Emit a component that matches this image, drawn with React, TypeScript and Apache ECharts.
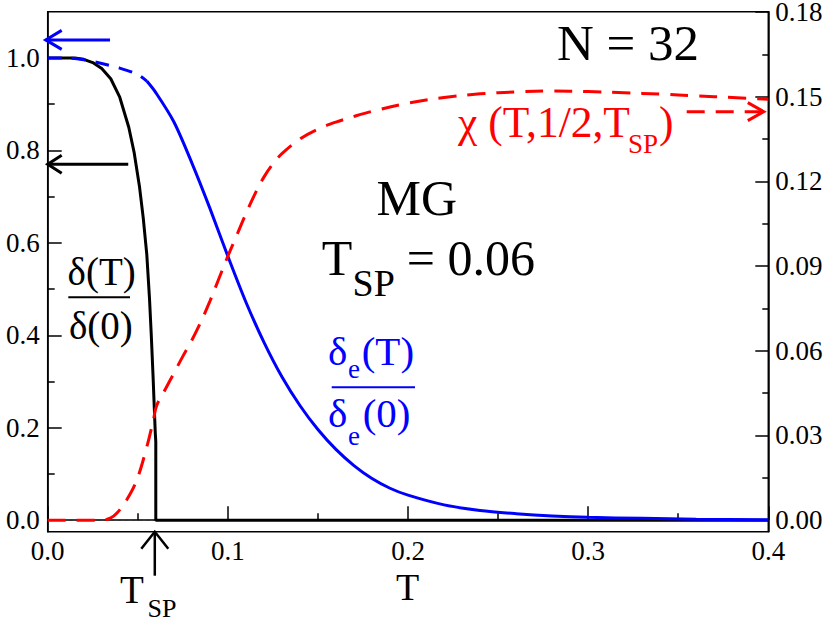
import React, { useEffect, useRef } from "react";
import * as echarts from "echarts";

// ---------- data ----------
const xTickValues = [0, 0.1, 0.2, 0.3, 0.4];
const leftTickValues = [0, 0.2, 0.4, 0.6, 0.8, 1.0];
const leftMinorValues = [0.1, 0.3, 0.5, 0.7, 0.9];
const rightTickValues = [0, 0.03, 0.06, 0.09, 0.12, 0.15, 0.18];
const rightMinorValues = [0.015, 0.045, 0.075, 0.105, 0.135, 0.165];

// delta(T)/delta(0)  (left axis)
const deltaT = [0, 0.01, 0.015, 0.02, 0.025, 0.03, 0.035, 0.04, 0.045, 0.048, 0.051, 0.053, 0.055, 0.0565, 0.0575, 0.0585, 0.0592, 0.0597, 0.06, 0.06, 0.4];
const deltaV = [1, 1, 1, 0.997, 0.99, 0.977, 0.955, 0.915, 0.85, 0.795, 0.72, 0.655, 0.575, 0.48, 0.4, 0.31, 0.24, 0.19, 0.17, 0, 0];

// delta_e(T)/delta_e(0)  dashed part (left axis)
const deltaEDashT = [0, 0.01, 0.02, 0.03, 0.04, 0.05, 0.055];
const deltaEDashV = [1, 1, 0.996, 0.988, 0.978, 0.964, 0.95];

// delta_e(T)/delta_e(0)  solid part (left axis)
const deltaET = [0.055, 0.06, 0.07, 0.08, 0.09, 0.1, 0.11, 0.12, 0.13, 0.14, 0.15, 0.16, 0.17, 0.18, 0.19, 0.2, 0.22, 0.24, 0.26, 0.28, 0.3, 0.33, 0.36, 0.4];
const deltaEV = [0.95, 0.925, 0.862, 0.773, 0.675, 0.571, 0.472, 0.385, 0.31, 0.248, 0.196, 0.153, 0.118, 0.09, 0.069, 0.054, 0.033, 0.021, 0.014, 0.009, 0.006, 0.004, 0.002, 0.001];

// chi(T,1/2,T_SP)  (right axis)
const chiT = [0, 0.03, 0.035, 0.0383, 0.0438, 0.0494, 0.055, 0.0586, 0.0605, 0.065, 0.07, 0.075, 0.08, 0.085, 0.09, 0.095, 0.1, 0.105, 0.11, 0.115, 0.12, 0.125, 0.13, 0.14, 0.15, 0.16, 0.17, 0.18, 0.2, 0.22, 0.24, 0.26, 0.28, 0.3, 0.32, 0.34, 0.36, 0.38, 0.4];
const chiV = [0, 0, 0.0008, 0.0024, 0.0071, 0.0141, 0.0259, 0.0353, 0.0406, 0.046, 0.052, 0.058, 0.0637, 0.0702, 0.0775, 0.0855, 0.0935, 0.101, 0.1085, 0.1155, 0.1215, 0.1262, 0.1298, 0.135, 0.1385, 0.141, 0.143, 0.1448, 0.1477, 0.1497, 0.151, 0.1517, 0.152, 0.1518, 0.1514, 0.1509, 0.1503, 0.1497, 0.1491];

// thin dashed zero reference up to T_SP
const zeroT = [0, 0.06];
const zeroV = [0, 0];

const TSP = 0.06;

const SERIF = "'Liberation Serif', 'Times New Roman', serif";
const BLUE = "#0000ff";
const RED = "#ff0000";

const pairs = (xs: number[], ys: number[]) => xs.map((x, i) => [x, ys[i]]);

let measureCtx: CanvasRenderingContext2D | null = null;
const measure = (text: string, fs: number) => {
  if (!measureCtx) measureCtx = document.createElement("canvas").getContext("2d");
  if (!measureCtx) return text.length * fs * 0.5;
  measureCtx.font = `${fs}px ${SERIF}`;
  return measureCtx.measureText(text).width;
};

export default function App() {
  const ref = useRef<HTMLDivElement>(null);

  useEffect(() => {
    if (!ref.current) return;
    const chart = echarts.init(ref.current, null, { renderer: "svg" });

    const labelStyle = { color: "#000", fontFamily: SERIF, fontSize: 27, lineHeight: 20 };
    const axisLine = { show: true, lineStyle: { color: "#000", width: 1.5 } };

    const option: any = {
      animation: false,
      backgroundColor: "#fff",
      textStyle: { fontFamily: SERIF },
      grid: {
        left: 47.7,
        right: 61.7,
        top: 11.7,
        bottom: 90.3,
        show: true,
        borderColor: "#000",
        borderWidth: 1.5,
        containLabel: false,
        outerBoundsMode: "none",
      },
      xAxis: [
        {
          type: "value",
          min: 0,
          max: 0.4,
          interval: 0.1,
          position: "bottom",
          axisLine,
          axisTick: { show: true, inside: true, length: 14, lineStyle: { color: "#000", width: 1.5 } },
          minorTick: { show: true, splitNumber: 2, length: 7, lineStyle: { color: "#000", width: 1.5 } },
          splitLine: { show: false },
          axisLabel: {
            ...labelStyle,
            margin: 9,
            customValues: xTickValues,
            formatter: (v: number) => v.toFixed(1),
            showMinLabel: true,
            showMaxLabel: true,
          },
        },
      ],
      yAxis: [
        {
          type: "value",
          position: "left",
          min: -0.025,
          max: 1.1,
          axisLine,
          splitLine: { show: false },
          axisTick: { show: true, inside: true, length: 14, customValues: leftTickValues, lineStyle: { color: "#000", width: 1.5 } },
          axisLabel: {
            ...labelStyle,
            margin: 8,
            customValues: leftTickValues,
            formatter: (v: number) => v.toFixed(1),
          },
        },
        {
          type: "value",
          position: "right",
          min: -0.0041,
          max: 0.1801,
          axisLine,
          splitLine: { show: false },
          axisTick: { show: true, inside: true, length: 13, customValues: rightTickValues, lineStyle: { color: "#000", width: 1.5 } },
          axisLabel: {
            ...labelStyle,
            margin: 7,
            customValues: rightTickValues,
            formatter: (v: number) => v.toFixed(2),
            showMaxLabel: true,
          },
        },
        {
          type: "value",
          position: "left",
          min: -0.025,
          max: 1.1,
          axisLine: { show: false },
          splitLine: { show: false },
          axisLabel: { show: false },
          axisTick: { show: true, inside: true, length: 7, customValues: leftMinorValues, lineStyle: { color: "#000", width: 1.5 } },
        },
        {
          type: "value",
          position: "right",
          min: -0.0041,
          max: 0.1801,
          axisLine: { show: false },
          splitLine: { show: false },
          axisLabel: { show: false },
          axisTick: { show: true, inside: true, length: 6, customValues: rightMinorValues, lineStyle: { color: "#000", width: 1.5 } },
        },
      ],
      series: [
        {
          type: "line",
          yAxisIndex: 0,
          data: pairs(zeroT, zeroV),
          symbol: "none",
          lineStyle: { color: "#333", width: 1, type: [4, 3] },
          z: 1,
        },
        {
          type: "line",
          yAxisIndex: 0,
          data: pairs(deltaT, deltaV),
          symbol: "none",
          lineStyle: { color: "#000", width: 3 },
          z: 2,
        },
        {
          type: "line",
          yAxisIndex: 0,
          data: pairs(deltaEDashT, deltaEDashV),
          symbol: "none",
          smooth: 0.3,
          lineStyle: { color: BLUE, width: 3, type: [14, 10] },
          z: 3,
        },
        {
          type: "line",
          yAxisIndex: 0,
          data: pairs(deltaET, deltaEV),
          symbol: "none",
          smooth: 0.3,
          lineStyle: { color: BLUE, width: 3 },
          z: 3,
        },
        {
          type: "line",
          yAxisIndex: 1,
          data: pairs(chiT, chiV),
          symbol: "none",
          smooth: 0.35,
          lineStyle: { color: RED, width: 3, type: [18, 11] },
          z: 4,
        },
      ],
    };

    chart.setOption(option);

    const P = (x: number, y: number, yi = 0) =>
      chart.convertToPixel({ xAxisIndex: 0, yAxisIndex: yi } as any, [x, y]) as number[];

    const txt = (text: string, x: number, baseline: number, fs: number, color = "#000", align = "left") => ({
      type: "text",
      x,
      y: baseline - 0.34 * fs,
      z: 100,
      style: {
        text,
        fill: color,
        font: `${fs}px ${SERIF}`,
        fontFamily: SERIF,
        fontSize: fs,
        lineHeight: Math.round(fs * 0.75),
        align,
        textAlign: align,
        verticalAlign: "middle",
        textVerticalAlign: "middle",
      },
    });

    const seg = (pts: number[][], color: string, width: number, dash?: number[]) => ({
      type: "polyline",
      z: 100,
      shape: { points: pts },
      style: { stroke: color, lineWidth: width, fill: "none", lineDash: dash },
    });

    const chevron = (tip: number[], dx: number, dy: number, vertical = false) =>
      vertical
        ? [[tip[0] - dx, tip[1] + dy], tip, [tip[0] + dx, tip[1] + dy]]
        : [[tip[0] + dx, tip[1] - dy], tip, [tip[0] + dx, tip[1] + dy]];

    // arrows
    const blueTip = P(0, 1.039);
    const blueTail = P(0.0346, 1.039);
    const blackTip = P(0, 0.77);
    const blackTail = P(0.0447, 0.77);
    const redTail = P(0.3547, 0.1447, 1);
    const redTip = P(0.3975, 0.1447, 1);
    const tspTip = P(TSP, -0.025);

    // chi label laid out sequentially
    const chiMain = "\u03c7 (T,1/2,T";
    const chiFs = 43.5;
    const chiSubFs = 27;
    const chiX0 = 458;
    const chiSubX = chiX0 + measure(chiMain, chiFs) - 2;
    const chiCloseX = chiSubX + measure("SP", chiSubFs) + 1;

    const graphic: any[] = [
      seg([blueTail, [blueTip[0] - 2, blueTip[1]]], BLUE, 3),
      seg(chevron([blueTip[0] - 2, blueTip[1]], 16, 9.5), BLUE, 3),
      seg([blackTail, blackTip], "#000", 3),
      seg(chevron(blackTip, 14, 9), "#000", 3),
      seg([redTail, [redTip[0] - 2, redTip[1]]], RED, 3, [18, 11]),
      seg(chevron(redTip, -16, 9), RED, 3),
      seg([[tspTip[0] - 1, tspTip[1]], [tspTip[0] - 1, tspTip[1] + 44]], "#000", 2.5),
      seg(chevron([tspTip[0] - 1, tspTip[1]], 13.5, 17, true), "#000", 2.5),

      // N = 32
      txt("N = 32", 557, 60, 51),
      // MG
      txt("MG", 416.7, 215, 50, "#000", "center"),
      // T_SP = 0.06
      txt("T", 321.7, 275, 50),
      txt("SP", 352.5, 296, 38),
      txt("= 0.06", 406.7, 275, 50),
      // chi label
      txt(chiMain, chiX0, 136.7, chiFs, RED),
      txt("SP", chiSubX, 153, chiSubFs, RED),
      txt(")", chiCloseX, 136.7, chiFs, RED),
      // delta(T)/delta(0)
      txt("\u03b4(T)", 101.7, 285, 39, "#000", "center"),
      { type: "line", z: 100, shape: { x1: 68.3, y1: 297.3, x2: 130, y2: 297.3 }, style: { stroke: "#000", lineWidth: 2 } },
      txt("\u03b4(0)", 100.8, 338.3, 39, "#000", "center"),
      // delta_e(T)/delta_e(0)
      txt("\u03b4", 328, 365, 41, BLUE),
      txt("e", 348, 378.3, 27, BLUE),
      txt("(T)", 361.7, 365, 41, BLUE),
      { type: "line", z: 100, shape: { x1: 331.7, y1: 387.3, x2: 415, y2: 387.3 }, style: { stroke: BLUE, lineWidth: 2 } },
      txt("\u03b4", 328, 426.7, 41, BLUE),
      txt("e", 348, 445, 27, BLUE),
      txt("(0)", 362.7, 426.7, 41, BLUE),
      // T_SP below axis
      txt("T", 120, 603, 39),
      txt("SP", 147.5, 617, 26),
      // axis title T
      txt("T", 407.7, 600, 38, "#000", "center"),
    ];

    chart.setOption({ graphic });

    return () => chart.dispose();
  }, []);

  return (
    <div
      ref={ref}
      style={{ position: "fixed", left: 0, top: 0, width: 830, height: 622, background: "#fff" }}
    />
  );
}
